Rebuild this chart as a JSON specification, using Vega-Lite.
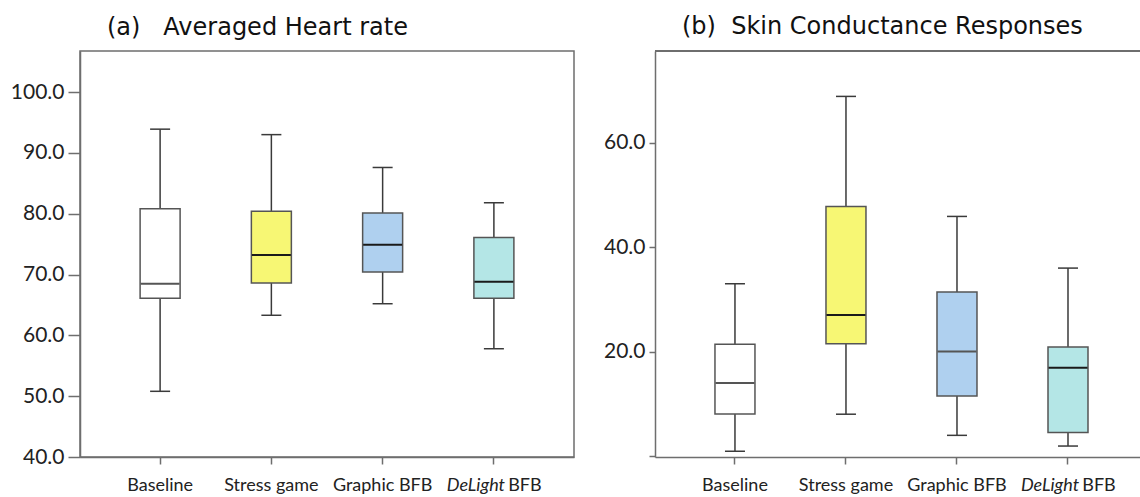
{
  "$schema": "https://vega.github.io/schema/vega-lite/v6.json",
  "padding": {"left": 0, "top": 15, "right": 0, "bottom": 0},
  "background": "white",
  "config": {
    "font": "Lato",
    "view": {"stroke": "#6e6e6e", "strokeWidth": 1.5},
    "concat": {"spacing": 20}
  },
  "datasets": {
    "hr": [
      {"group": "Baseline", "lower": 50.8, "q1": 66.1, "median": 68.5, "q3": 80.8, "upper": 93.9},
      {"group": "Stress game", "lower": 63.3, "q1": 68.6, "median": 73.2, "q3": 80.4, "upper": 93.0},
      {"group": "Graphic BFB", "lower": 65.2, "q1": 70.4, "median": 74.9, "q3": 80.1, "upper": 87.6},
      {"group": "DeLight BFB", "lower": 57.8, "q1": 66.1, "median": 68.8, "q3": 76.1, "upper": 81.8}
    ],
    "scr": [
      {"group": "Baseline", "lower": 0.9, "q1": 8.05, "median": 14.0, "q3": 21.4, "upper": 33.0},
      {"group": "Stress game", "lower": 8.0, "q1": 21.5, "median": 27.0, "q3": 47.8, "upper": 68.9},
      {"group": "Graphic BFB", "lower": 3.95, "q1": 11.5, "median": 20.0, "q3": 31.4, "upper": 45.9},
      {"group": "DeLight BFB", "lower": 1.9, "q1": 4.5, "median": 16.9, "q3": 20.9, "upper": 36.0}
    ]
  },
  "hconcat": [
    {
      "width": 494,
      "height": 406,
      "data": {"name": "hr"},
      "title": {"text": "(a)\u00a0\u00a0\u00a0Averaged Heart rate", "anchor": "start", "frame": "group", "dx": 27, "font": "DejaVu Sans", "fontSize": 24, "fontWeight": "normal", "color": "#111", "baseline": "alphabetic", "offset": -8},
      "resolve": {"axis": {"x": "independent"}},
      "layer": [
        {
          "encoding": {
            "x": {
              "field": "group", "type": "nominal",
              "sort": ["Baseline", "Stress game", "Graphic BFB", "DeLight BFB"],
              "scale": {"paddingInner": 0, "paddingOuter": 0.22, "align": 0.5},
              "axis": {
                "title": null, "labelAngle": 0, "labelFontSize": 18, "labelPadding": 12,
                "tickSize": 7, "tickWidth": 1.5, "tickColor": "#6e6e6e", "domainColor": "#6e6e6e", "domainWidth": 1.5,
                "labelColor": "#222",
                "labelExpr": "datum.value == 'DeLight BFB' ? 'DeLight' : datum.value",
                "labelFontStyle": {"condition": {"test": "datum.value == 'DeLight BFB'", "value": "italic"}, "value": "normal"},
                "labelOffset": {"condition": {"test": "datum.value == 'DeLight BFB'", "value": -18}, "value": 0}
              }
            }
          },
          "layer": [
            {
              "mark": {"type": "rule", "color": "#3a3a3a", "strokeWidth": 1.5},
              "encoding": {
                "y": {"field": "lower", "type": "quantitative", "scale": {"domain": [40, 106.75], "nice": false, "zero": false},
                  "axis": {"title": null, "values": [40, 50, 60, 70, 80, 90, 100], "format": ".1f", "grid": false,
                    "tickSize": 12, "tickWidth": 1.5, "tickColor": "#6e6e6e", "domainColor": "#6e6e6e", "domainWidth": 1.5,
                    "labelPadding": 4, "labelFontSize": 21, "labelColor": "#222", "minExtent": 79, "maxExtent": 79}},
                "y2": {"field": "upper"}
              }
            },
            {
              "mark": {"type": "tick", "color": "#3a3a3a", "size": 20, "thickness": 1.5, "opacity": 1},
              "encoding": {"y": {"field": "lower", "type": "quantitative", "scale": {"domain": [40, 106.75], "nice": false, "zero": false}}}
            },
            {
              "mark": {"type": "tick", "color": "#3a3a3a", "size": 20, "thickness": 1.5, "opacity": 1},
              "encoding": {"y": {"field": "upper", "type": "quantitative", "scale": {"domain": [40, 106.75], "nice": false, "zero": false}}}
            },
            {
              "mark": {"type": "bar", "size": 40, "stroke": "#555", "strokeWidth": 1.5, "opacity": 1},
              "encoding": {
                "y": {"field": "q1", "type": "quantitative", "scale": {"domain": [40, 106.75], "nice": false, "zero": false}},
                "y2": {"field": "q3"},
                "color": {"field": "group", "type": "nominal", "legend": null,
                  "scale": {"domain": ["Baseline", "Stress game", "Graphic BFB", "DeLight BFB"], "range": ["#ffffff", "#f7f774", "#afd0ef", "#b4e6e6"]}}
              }
            },
            {
              "mark": {"type": "tick", "size": 39, "thickness": 2, "opacity": 1},
              "encoding": {
                "y": {"field": "median", "type": "quantitative", "scale": {"domain": [40, 106.75], "nice": false, "zero": false}},
                "color": {"condition": {"test": "datum.group == 'Baseline'", "value": "#555555"}, "value": "#1a1a1a"}
              }
            }
          ]
        },
        {
          "mark": {"type": "tick", "opacity": 0},
          "encoding": {
            "x": {
              "field": "group", "type": "nominal",
              "sort": ["Baseline", "Stress game", "Graphic BFB", "DeLight BFB"],
              "scale": {"paddingInner": 0, "paddingOuter": 0.22, "align": 0.5},
              "axis": {
                "orient": "bottom", "title": null, "labelAngle": 0, "labelFontSize": 18, "labelPadding": 12,
                "tickSize": 7, "ticks": true, "tickOpacity": 0, "domain": false, "labelColor": "#222",
                "labelExpr": "datum.value == 'DeLight BFB' ? 'BFB' : ''",
                "labelOffset": 31
              }
            },
            "y": {"field": "median", "type": "quantitative", "scale": {"domain": [40, 106.75], "nice": false, "zero": false}}
          }
        }
      ]
    },
    {
      "width": 486,
      "height": 406,
      "view": {"stroke": null},
      "data": {"name": "scr"},
      "title": {"text": "(b)\u00a0\u00a0Skin Conductance Responses", "anchor": "start", "frame": "group", "dx": 27, "font": "DejaVu Sans", "fontSize": 24, "fontWeight": "normal", "color": "#111", "baseline": "alphabetic", "offset": -8},
      "resolve": {"axis": {"x": "independent"}},
      "layer": [
        {
          "mark": {"type": "rule", "color": "#6e6e6e", "strokeWidth": 1.5},
          "encoding": {"y": {"datum": 77.6, "type": "quantitative", "scale": {"domain": [-0.2, 77.6], "nice": false, "zero": false}}}
        },
        {
          "encoding": {
            "x": {
              "field": "group", "type": "nominal",
              "sort": ["Baseline", "Stress game", "Graphic BFB", "DeLight BFB"],
              "scale": {"paddingInner": 0, "paddingOuter": 0.189, "align": 0.583},
              "axis": {
                "title": null, "labelAngle": 0, "labelFontSize": 18, "labelPadding": 12,
                "tickSize": 7, "tickWidth": 1.5, "tickColor": "#6e6e6e", "domainColor": "#6e6e6e", "domainWidth": 1.5,
                "labelColor": "#222",
                "labelExpr": "datum.value == 'DeLight BFB' ? 'DeLight' : datum.value",
                "labelFontStyle": {"condition": {"test": "datum.value == 'DeLight BFB'", "value": "italic"}, "value": "normal"},
                "labelOffset": {"condition": {"test": "datum.value == 'DeLight BFB'", "value": -18}, "value": 0}
              }
            }
          },
          "layer": [
            {
              "mark": {"type": "rule", "color": "#3a3a3a", "strokeWidth": 1.5},
              "encoding": {
                "y": {"field": "lower", "type": "quantitative", "scale": {"domain": [-0.2, 77.6], "nice": false, "zero": false},
                  "axis": {"title": null, "values": [0, 20, 40, 60], "labelExpr": "datum.value == 0 ? '' : format(datum.value, '.1f')", "grid": false,
                    "tickSize": 6, "tickWidth": 1.5, "tickColor": "#6e6e6e", "domainColor": "#6e6e6e", "domainWidth": 1.5,
                    "labelPadding": 4, "labelFontSize": 21, "labelColor": "#222", "minExtent": 60, "maxExtent": 60}},
                "y2": {"field": "upper"}
              }
            },
            {
              "mark": {"type": "tick", "color": "#3a3a3a", "size": 20, "thickness": 1.5, "opacity": 1},
              "encoding": {"y": {"field": "lower", "type": "quantitative", "scale": {"domain": [-0.2, 77.6], "nice": false, "zero": false}}}
            },
            {
              "mark": {"type": "tick", "color": "#3a3a3a", "size": 20, "thickness": 1.5, "opacity": 1},
              "encoding": {"y": {"field": "upper", "type": "quantitative", "scale": {"domain": [-0.2, 77.6], "nice": false, "zero": false}}}
            },
            {
              "mark": {"type": "bar", "size": 40, "stroke": "#555", "strokeWidth": 1.5, "opacity": 1},
              "encoding": {
                "y": {"field": "q1", "type": "quantitative", "scale": {"domain": [-0.2, 77.6], "nice": false, "zero": false}},
                "y2": {"field": "q3"},
                "color": {"field": "group", "type": "nominal", "legend": null,
                  "scale": {"domain": ["Baseline", "Stress game", "Graphic BFB", "DeLight BFB"], "range": ["#ffffff", "#f7f774", "#afd0ef", "#b4e6e6"]}}
              }
            },
            {
              "mark": {"type": "tick", "size": 39, "thickness": 2, "opacity": 1},
              "encoding": {
                "y": {"field": "median", "type": "quantitative", "scale": {"domain": [-0.2, 77.6], "nice": false, "zero": false}},
                "color": {"condition": {"test": "datum.group == 'Baseline' || datum.group == 'Graphic BFB'", "value": "#555555"}, "value": "#1a1a1a"}
              }
            }
          ]
        },
        {
          "mark": {"type": "tick", "opacity": 0},
          "encoding": {
            "x": {
              "field": "group", "type": "nominal",
              "sort": ["Baseline", "Stress game", "Graphic BFB", "DeLight BFB"],
              "scale": {"paddingInner": 0, "paddingOuter": 0.189, "align": 0.583},
              "axis": {
                "orient": "bottom", "title": null, "labelAngle": 0, "labelFontSize": 18, "labelPadding": 12,
                "tickSize": 7, "ticks": true, "tickOpacity": 0, "domain": false, "labelColor": "#222",
                "labelExpr": "datum.value == 'DeLight BFB' ? 'BFB' : ''",
                "labelOffset": 31
              }
            },
            "y": {"field": "median", "type": "quantitative", "scale": {"domain": [-0.2, 77.6], "nice": false, "zero": false}}
          }
        }
      ]
    }
  ]
}
